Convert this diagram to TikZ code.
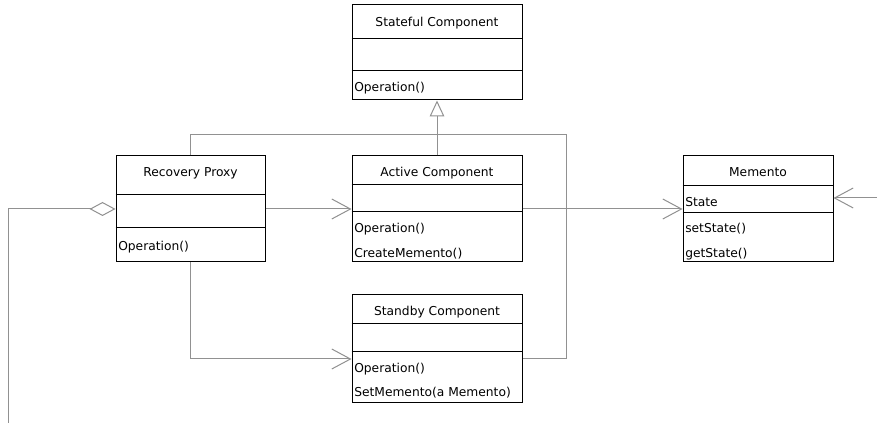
\documentclass[tikz,border=0pt]{standalone}
\usepackage{fontspec}
\setmainfont{DejaVu Sans}
\usetikzlibrary{arrows.meta,calc}
\definecolor{linegray}{RGB}{145,145,145}
\begin{document}
\begin{tikzpicture}[x=0.75pt,y=-0.75pt,
  box/.style={draw=black, line width=0.75pt, rectangle, inner sep=0pt},
  sep/.style={draw=black, line width=0.75pt},
  conn/.style={draw=linegray, line width=0.75pt},
  title/.style={font=\fontsize{9.2}{11}\selectfont, inner sep=0pt, text height=6.7pt, text depth=0.5pt},
  member/.style={title, anchor=west},
  navarrow/.style={-{Straight Barb[length=14pt,width=15pt]}},
  genarrow/.style={-{Triangle[open,length=12pt,width=11pt]}},
  aggstart/.style={{Diamond[open,length=19.5pt,width=10.5pt]}-}
]
\useasboundingbox (0,0) rectangle (877,423);

% class boxes
\node[box, minimum width=127.5pt, minimum height=71.25pt] (stateful) at (437,52.5) {};
\node[box, minimum width=111.75pt, minimum height=79.5pt] (proxy) at (190.5,209) {};
\node[box, minimum width=127.5pt, minimum height=79.5pt] (active) at (437,209) {};
\node[box, minimum width=112.5pt, minimum height=79.5pt] (memento) at (758,209) {};
\node[box, minimum width=127.5pt, minimum height=80.25pt] (standby) at (437,348.5) {};

% compartments
\draw[sep] (stateful.west |- 0,39) -- (stateful.east |- 0,39);
\draw[sep] (stateful.west |- 0,71) -- (stateful.east |- 0,71);
\draw[sep] (proxy.west |- 0,195) -- (proxy.east |- 0,195);
\draw[sep] (proxy.west |- 0,228) -- (proxy.east |- 0,228);
\draw[sep] (active.west |- 0,185) -- (active.east |- 0,185);
\draw[sep] (active.west |- 0,212) -- (active.east |- 0,212);
\draw[sep] (memento.west |- 0,186) -- (memento.east |- 0,186);
\draw[sep] (memento.west |- 0,213) -- (memento.east |- 0,213);
\draw[sep] (standby.west |- 0,324) -- (standby.east |- 0,324);
\draw[sep] (standby.west |- 0,352) -- (standby.east |- 0,352);

% texts
\node[title] (statefulT) at (437,22) {Stateful Component};
\node[member] (statefulOp) at (354,87) {Operation()};

\node[title] (proxyT) at (190.5,172) {Recovery Proxy};
\node[member] (proxyOp) at (118,246) {Operation()};

\node[title] (activeT) at (437,172) {Active Component};
\node[member] (activeOp) at (354,228) {Operation()};
\node[member] (activeCm) at (354,253) {CreateMemento()};

\node[title] (mementoT) at (758,172) {Memento};
\node[member] (mementoSt) at (685,202) {State};
\node[member] (mementoSet) at (685,228) {setState()};
\node[member] (mementoGet) at (685,253) {getState()};

\node[title] (standbyT) at (437,311) {Standby Component};
\node[member] (standbyOp) at (354,368) {Operation()};
\node[member] (standbySm) at (354,392) {SetMemento(a Memento)};

% connectors
\draw[conn, genarrow] (active.north) -- (stateful.south);
\coordinate (genR) at (566,135);
\draw[conn] (proxy.north) |- (genR) |- ([yshift=-7.875pt]standby.east);
\draw[conn, navarrow] (proxy.east) -- (active.west);
\draw[conn, navarrow] (active.east) -- (memento.west);
\draw[conn, navarrow] (proxy.south) |- ([yshift=-7.875pt]standby.west);
\coordinate (mementoIn) at (877,198);
\draw[conn, navarrow] (mementoIn) -- (mementoIn -| memento.east);
\coordinate (leftEnd) at (8,423);
\draw[conn, aggstart] (proxy.west) -| (leftEnd);
\end{tikzpicture}
\end{document}
